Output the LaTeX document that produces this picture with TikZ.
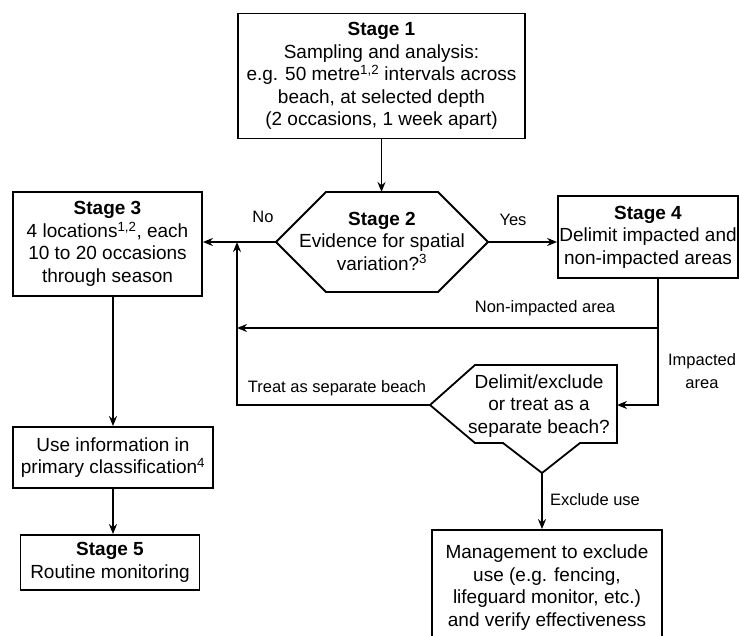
\documentclass[tikz,border=0pt]{standalone}
\usepackage{fontspec}
\setmainfont{Liberation Sans}
\usetikzlibrary{arrows.meta}

\begin{document}
\begin{tikzpicture}[x=1pt,y=-1pt,
    box/.style={draw,line width=1.8pt,align=center,inner sep=0pt,font=\fontsize{19}{22.5}\selectfont},
    txt/.style={align=center,inner sep=0pt,font=\fontsize{19}{22.5}\selectfont},
    lbl/.style={align=center,inner sep=0pt,font=\fontsize{16.5}{23}\selectfont},
    line/.style={line width=1.8pt},
    flow/.style={line width=1.8pt,-{Stealth[length=10pt,width=8pt]}}]
  \useasboundingbox (0,0) rectangle (739,636);
  \node[box,minimum width=287pt,minimum height=125pt] (stageone) at (381.5,76)
    {\textbf{Stage 1}\\Sampling and analysis:\\e.g. 50 metre\textsuperscript{1,2} intervals across\\beach, at selected depth\\(2 occasions, 1 week apart)};
  \draw[line] (276,242) coordinate (twoL) -- (326,192) -- (381.5,192) coordinate (twoT) -- (438,192)
    -- (488,242) coordinate (twoR) -- (438,292) -- (326,292) -- cycle;
  \node[txt] (stagetwo) at (382,241) {\textbf{Stage 2}\\Evidence for spatial\\variation?\textsuperscript{3}};
  \node[box,minimum width=189pt,minimum height=104pt] (stagethree) at (107.5,244)
    {\textbf{Stage 3}\\4 locations\textsuperscript{1,2}, each\\10 to 20 occasions\\through season};
  \node[box,minimum width=180pt,minimum height=82pt] (stagefour) at (648,237)
    {\textbf{Stage 4}\\Delimit impacted and\\non-impacted areas};
  \draw[line] (430,405) coordinate (decL) -- (475,365) -- (617,365) -- (617,405) coordinate (decR)
    -- (617,443) -- (580,443) -- (542,473) coordinate (decB) -- (503,443) -- (475,443) -- cycle;
  \node[txt] (decide) at (539,406) {Delimit/exclude\\or treat as a\\separate beach?};
  \node[box,minimum width=230pt,minimum height=115pt] (manage) at (547,587.5)
    {Management to exclude\\use (e.g. fencing,\\lifeguard monitor, etc.)\\and verify effectiveness};
  \node[box,minimum width=200pt,minimum height=61pt] (useinfo) at (113,457.5)
    {Use information in\\primary classification\textsuperscript{4}};
  \node[box,minimum width=179pt,minimum height=55pt] (stagefive) at (110,562.5)
    {\textbf{Stage 5}\\Routine monitoring};
  \coordinate (fourdown) at (658,278);
  \coordinate (nonimp) at (658,328);
  \coordinate (imp) at (658,405);
  \coordinate (backup) at (237,328);
  \coordinate (back) at (237,405);
  \coordinate (backtop) at (237,242);
  \draw[flow] (twoT |- stageone.south) -- (twoT);
  \draw[flow] (twoL) -- (twoL -| stagethree.east);
  \draw[flow] (twoR) -- (twoR -| stagefour.west);
  \draw[flow] (fourdown) -- (imp) -- (decR);
  \draw[flow] (nonimp) -- (backup);
  \draw[flow] (decL) -- (back) -- (backtop);
  \draw[flow] (decB) -- (decB |- manage.north);
  \draw[flow] (useinfo.north |- stagethree.south) -- (useinfo.north);
  \draw[flow] (useinfo.south) -- (useinfo.south |- stagefive.north);
  \node[lbl] (no) at (263,217) {No};
  \node[lbl] (yes) at (513,220) {Yes};
  \node[lbl] (nonlbl) at (545,308) {Non-impacted area};
  \node[lbl] (implbl) at (702,371) {Impacted\\area};
  \node[lbl] (treatlbl) at (337,388) {Treat as separate beach};
  \node[lbl] (exclbl) at (595,500) {Exclude use};
\end{tikzpicture}
\end{document}
